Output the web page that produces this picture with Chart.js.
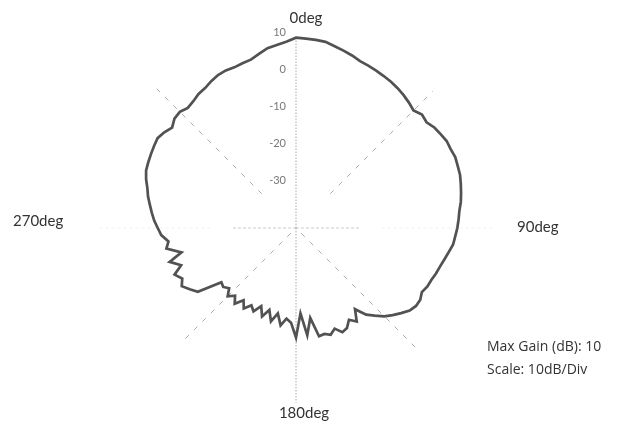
<!DOCTYPE html>
<html>
<head>
<meta charset="utf-8">
<script src="https://cdn.jsdelivr.net/npm/chart.js@4"></script>
<style>
html,body{margin:0;padding:0;background:#fff;}
#wrap{width:623px;height:426px;position:relative;}
</style>
</head>
<body>
<div id="wrap"><canvas id="c" width="623" height="426"></canvas></div>
<script>
// Angles in degrees (category axis of the polar pattern), 3 degree steps
const angleStepDeg = 3;
const angles = [];
for (let a = 0; a < 360; a += angleStepDeg) angles.push(a);

const gainDb = [
  8.2, 8.0, 7.9, 7.7, 7.0, 6.4, 5.8, 5.1, 4.8, 4.5,
  4.2, 3.9, 3.5, 3.0, 2.4, 1.7, 2.6, 2.2, 3.0, 3.4,
  3.8, 3.7, 3.9, 3.6, 3.4, 2.9, 2.4, 1.9, 1.2, 0.8,
  0.4, -0.1, -0.5, -1.4, -2.2, -2.9, -3.4, -4.0, -4.3, -5.0,
  -4.4, -4.5, -5.2, -6.6, -8.0, -9.4, -11.3, -13.0, -16.0, -13.0,
  -14.5, -12.8, -12.3, -14.0, -12.8, -13.5, -13.2, -18.5, -14.0, -20.0,
  -13.5, -17.5, -18.5, -16.5, -19.5, -17.0, -19.8, -17.5, -20.0, -17.8,
  -19.0, -17.2, -19.0, -16.8, -18.5, -17.0, -18.8, -17.8, -18.2, -11.5,
  -10.0, -8.5, -9.5, -8.0, -10.5, -7.8, -11.5, -7.7, -8.5, -6.7,
  -5.8, -4.8, -4.0, -3.2, -2.3, -1.6, -0.6, 0.2, 0.5, 0.8,
  1.1, 1.4, 0.8, -0.1, 1.0, 1.2, 0.5, 0.9, 1.6, 1.9,
  2.6, 3.2, 3.4, 3.3, 3.6, 3.9, 4.9, 6.0, 6.5, 7.2
];

// Radial tick labels
const tickValues = [10, 0, -10, -20, -30];
const tickLabels = ['10', '0', '-10', '-20', '-30'];

// Direction labels
const directionLabels = ['0deg', '90deg', '180deg', '270deg'];

// Info text
const infoLines = ['Max Gain (dB): 10', 'Scale: 10dB/Div'];

const scaleMin = -43;
const scaleMax = 10;

const overlayPlugin = {
  id: 'overlay',
  beforeDatasetsDraw(chart) {
    const s = chart.scales.r;
    const ctx = chart.ctx;
    const cx = s.xCenter, cy = s.yCenter;
    const R = v => s.getDistanceFromCenterForValue(v);
    // spokes: [angleDeg, fromValue, toValue, color, dash]
    const spokes = [
      [0, scaleMin, 8.5, 'rgba(140,140,140,0.75)', [1.5, 1.5]],
      [180, scaleMin, 4, 'rgba(140,140,140,0.75)', [1.5, 1.5]],
      [45, -30, 9, 'rgba(140,140,140,0.7)', [5, 7]],
      [315, -30, 10, 'rgba(140,140,140,0.7)', [5, 7]],
      [135, -41, 4, 'rgba(140,140,140,0.7)', [5, 7]],
      [225, -41, 0, 'rgba(140,140,140,0.7)', [5, 7]],
      [90, scaleMin, -26, 'rgba(170,170,170,0.6)', [3, 2]],
      [270, scaleMin, -26, 'rgba(170,170,170,0.6)', [3, 2]],
      [90, -20, 10, 'rgba(210,210,210,0.3)', [3, 3]],
      [270, -20, 10, 'rgba(210,210,210,0.3)', [3, 3]]
    ];
    ctx.save();
    ctx.lineWidth = 1;
    spokes.forEach(([deg, v0, v1, col, dash]) => {
      const a = deg * Math.PI / 180;
      const r0 = R(v0), r1 = R(v1);
      ctx.strokeStyle = col;
      ctx.setLineDash(dash);
      ctx.beginPath();
      ctx.moveTo(cx + r0 * Math.sin(a), cy - r0 * Math.cos(a));
      ctx.lineTo(cx + r1 * Math.sin(a), cy - r1 * Math.cos(a));
      ctx.stroke();
    });
    ctx.restore();
  },
  afterDraw(chart) {
    const s = chart.scales.r;
    const ctx = chart.ctx;
    const cx = s.xCenter, cy = s.yCenter;
    ctx.save();
    // radial tick labels, right aligned left of the vertical axis
    ctx.font = '11px Lato, "Noto Sans", sans-serif';
    ctx.fillStyle = '#777';
    ctx.textAlign = 'right';
    ctx.textBaseline = 'middle';
    tickValues.forEach((v, i) => {
      const y = cy - s.getDistanceFromCenterForValue(v);
      ctx.fillText(tickLabels[i], cx - 10, y + 1);
    });
    // direction labels
    ctx.font = '15px Lato, "Noto Sans", sans-serif';
    ctx.fillStyle = '#333';
    ctx.textBaseline = 'middle';
    ctx.textAlign = 'center';
    ctx.fillText(directionLabels[0], cx + 10, cy - 210);
    ctx.fillText(directionLabels[2], cx + 8, cy + 185);
    ctx.textAlign = 'left';
    ctx.fillText(directionLabels[1], cx + 221, cy - 1);
    ctx.fillText(directionLabels[3], cx - 283, cy - 7);
    // info text
    ctx.font = '14px "Open Sans", Lato, sans-serif';
    ctx.fillStyle = '#333';
    ctx.textAlign = 'left';
    ctx.fillText(infoLines[0], cx + 191, cy + 119);
    ctx.fillText(infoLines[1], cx + 191, cy + 142);
    ctx.restore();
  }
};

const purpleFrom = 66, purpleTo = 78;

new Chart(document.getElementById('c'), {
  type: 'radar',
  data: {
    labels: angles.map(a => a + 'deg'),
    datasets: [{
      data: gainDb,
      borderColor: '#525252',
      borderWidth: 2.7,
      fill: false,
      pointRadius: 0,
      pointHoverRadius: 0,
      tension: 0,
      segment: {
        borderColor: c => (c.p0DataIndex >= purpleFrom && c.p0DataIndex <= purpleTo) ? '#6a6a98' : undefined
      }
    }]
  },
  plugins: [overlayPlugin],
  options: {
    responsive: false,
    animation: false,
    events: [],
    layout: { padding: { left: 0, right: 31, top: 31, bottom: -9 } },
    plugins: { legend: { display: false }, tooltip: { enabled: false } },
    scales: {
      r: {
        min: scaleMin,
        max: scaleMax,
        startAngle: 0,
        grid: { display: false },
        angleLines: { display: false },
        ticks: { display: false },
        pointLabels: { display: false }
      }
    }
  }
});
</script>
</body>
</html>
